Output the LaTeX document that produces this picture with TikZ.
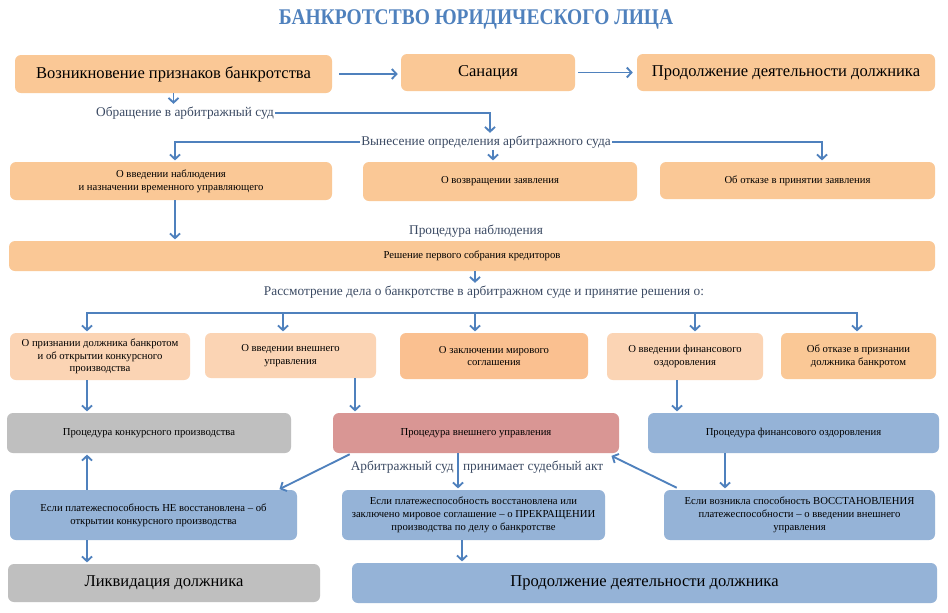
\documentclass[tikz,border=0pt]{standalone}
\usepackage{fontspec}
\setmainfont{Liberation Serif}
\usetikzlibrary{arrows.meta,calc}
\definecolor{peach}{HTML}{FAC896}
\definecolor{peachlt}{HTML}{FBD4B4}
\definecolor{peachdk}{HTML}{FAC090}
\definecolor{grayb}{HTML}{BFBFBF}
\definecolor{redb}{HTML}{D99694}
\definecolor{blueb}{HTML}{95B3D7}
\definecolor{arrowc}{HTML}{4F81BD}
\definecolor{labc}{HTML}{3B4A63}
\definecolor{titlec}{HTML}{4F81BD}
\tikzset{
 box/.style={rounded corners=4.5pt, inner sep=0pt, align=center, text=black},
 szw/.style={minimum width=#1*0.75pt},
 szh/.style={minimum height=#1*0.75pt},
 big/.style={font=\fontsize{12.4}{15}\selectfont},
 small/.style={font=\fontsize{8}{9.6}\selectfont},
 lab/.style={font=\fontsize{10}{12}\selectfont, text=labc, inner sep=1pt},
 arr/.style={draw=arrowc, line width=1.4pt, -{Straight Barb[length=3.5pt,width=7.5pt]}, shorten >=1pt},
 ln/.style={draw=arrowc, line width=1.4pt},
}
\begin{document}
\begin{tikzpicture}[x=0.75pt,y=-0.75pt]
\useasboundingbox (0,0) rectangle (948,612);
\fill[white] (0,0) rectangle (948,612);

\node[text=titlec, font=\fontsize{14.6}{18}\selectfont\bfseries] (title) at (476,19) {\scalebox{1}[1.15]{БАНКРОТСТВО ЮРИДИЧЕСКОГО ЛИЦА}};

% row 1
\node[box, fill=peach, szw=317, szh=38, big] (b1) at (173.5,74) {Возникновение признаков банкротства};
\node[box, fill=peach, szw=174, szh=37, big] (b2) at (488,72.5) {Санация};
\node[box, fill=peach, szw=298, szh=37, big] (b3) at (786,72.5) {Продолжение деятельности должника};

\node[lab] (lab1) at (185,113) {Обращение в арбитражный суд};
\node[lab] (lab2) at (486,142) {Вынесение определения арбитражного суда};

% row 2
\node[box, fill=peach, szw=322, szh=38, small] (r2a) at (171,181) {О введении наблюдения\\и назначении временного управляющего};
\node[box, fill=peach, szw=274, szh=39, small] (r2b) at (500,181.5) {О возвращении заявления};
\node[box, fill=peach, szw=275, szh=37, small] (r2c) at (797.5,180.5) {Об отказе в принятии заявления};

\node[lab] (lab3) at (476,231) {Процедура наблюдения};
\node[box, fill=peach, szw=926, szh=30, small] (obs) at (472,256) {Решение первого собрания кредиторов};
\node[lab] (lab4) at (484,292) {Рассмотрение дела о банкротстве в арбитражном суде и принятие решения о:};

% row 4
\node[box, fill=peachlt, szw=180, szh=47, small] (r4a) at (100,356.5) {О признании должника банкротом\\и об открытии конкурсного\\производства};
\node[box, fill=peachlt, szw=171, szh=45, small] (r4b) at (290.5,355.5) {О введении внешнего\\управления};
\node[box, fill=peachdk, szw=188, szh=46, small] (r4c) at (494,356) {О заключении мирового\\соглашения};
\node[box, fill=peachlt, szw=156, szh=47, small] (r4d) at (685,356.5) {О введении финансового\\оздоровления};
\node[box, fill=peach, szw=155, szh=46, small] (r4e) at (858.5,356) {Об отказе в признании\\должника банкротом};

% row 5
\node[box, fill=grayb, szw=284, szh=40, small] (r5a) at (149,433) {Процедура конкурсного производства};
\node[box, fill=redb, szw=286, szh=40, small] (r5b) at (476,433) {Процедура внешнего управления};
\node[box, fill=blueb, szw=291, szh=40, small] (r5c) at (793.5,433) {Процедура финансового оздоровления};

\node[lab] (lab5) at (477,467) {Арбитражный суд\hspace{7pt}принимает судебный акт};

% row 6
\node[box, fill=blueb, szw=287, szh=50, small] (r6a) at (153.5,515) {Если платежеспособность НЕ восстановлена -- об\\открытии конкурсного производства};
\node[box, fill=blueb, szw=263, szh=50, small] (r6b) at (473.5,515) {Если платежеспособность восстановлена или\\заключено мировое соглашение -- о ПРЕКРАЩЕНИИ\\производства по делу о банкротстве};
\node[box, fill=blueb, szw=271, szh=50, small] (r6c) at (799.5,515) {Если возникла способность ВОССТАНОВЛЕНИЯ\\платежеспособности -- о введении внешнего\\управления};

% row 7
\node[box, fill=grayb, szw=312, szh=38, big] (r7a) at (164,583) {Ликвидация должника};
\node[box, fill=blueb, szw=585, szh=40, big] (r7b) at (644.5,583) {Продолжение деятельности должника};

% connector anchors
\coordinate (lab2n) at ($(lab2.north)+(4,0)$);
\coordinate (r2an) at ($(r2a.north)+(4,0)$);
\coordinate (r2cn) at ($(r2c.north)+(24.5,0)$);
\coordinate (lab2s) at ($(lab2.south)+(7,0)$);
\coordinate (r2as) at ($(r2a.south)+(4,0)$);
\coordinate (obss) at ($(obs.south)+(3,0)$);
\coordinate (r4as) at ($(r4a.south)+(-13,0)$);
\coordinate (r4bs) at ($(r4b.south)+(64.5,0)$);
\coordinate (r4ds) at ($(r4d.south)+(-8,0)$);
\coordinate (r5bs) at ($(r5b.south)+(-18,0)$);
\coordinate (r5cs) at ($(r5c.south)+(-68.5,0)$);
\coordinate (r6an) at ($(r6a.north)+(-66.5,0)$);
\coordinate (r6as) at ($(r6a.south)+(-66.5,0)$);
\coordinate (r6bs) at ($(r6b.south)+(-11.5,0)$);

% connectors
\draw[arr, shorten <=5.25pt, shorten >=2.25pt] (b1.east) -- (b1.east -| b2.west);
\draw[arr, shorten <=2.25pt, shorten >=3pt] (b2.east) -- (b2.east -| b3.west);
\draw[arr] (b1.south) -- (b1.south |- lab1.north);
\draw[arr] (lab1.east) -| (lab2n);
\draw[arr] (lab2.west) -| (r2an);
\draw[arr] (lab2.east) -| (r2cn);
\draw[arr] (lab2s) -- (lab2s |- r2b.north);
\draw[arr] (r2as) -- (r2as |- obs.north);
\draw[arr] (obss) -- (obss |- lab4.north);

\coordinate (bus1) at (87,313);
\coordinate (bus2) at (283,313);
\coordinate (bus3) at (475,313);
\coordinate (bus4) at (695,313);
\coordinate (bus5) at (857,313);
\draw[ln, line cap=rect] (bus1) -- (bus5);
\foreach \i/\n in {1/r4a,2/r4b,3/r4c,4/r4d,5/r4e}
  \draw[arr] (bus\i) -- (bus\i |- \n.north);

\draw[arr] (r4as) -- (r4as |- r5a.north);
\draw[arr] (r4bs) -- (r4bs |- r5b.north);
\draw[arr] (r4ds) -- (r4ds |- r5c.north);

\draw[arr] ($(r5b.south west)+(17,1)$) -- ($(r6a.north east)+(-19,0)$);
\draw[arr] (r5bs) -- (r5bs |- r6b.north);
\draw[arr] ($(r6c.north west)+(13,-2)$) -- ($(r5b.south east)+(-9,2)$);
\draw[arr] (r5cs) -- (r5cs |- r6c.north);
\draw[arr] (r6an) -- (r6an |- r5a.south);
\draw[arr] (r6as) -- (r6as |- r7a.north);
\draw[arr] (r6bs) -- (r6bs |- r7b.north);
\end{tikzpicture}
\end{document}
